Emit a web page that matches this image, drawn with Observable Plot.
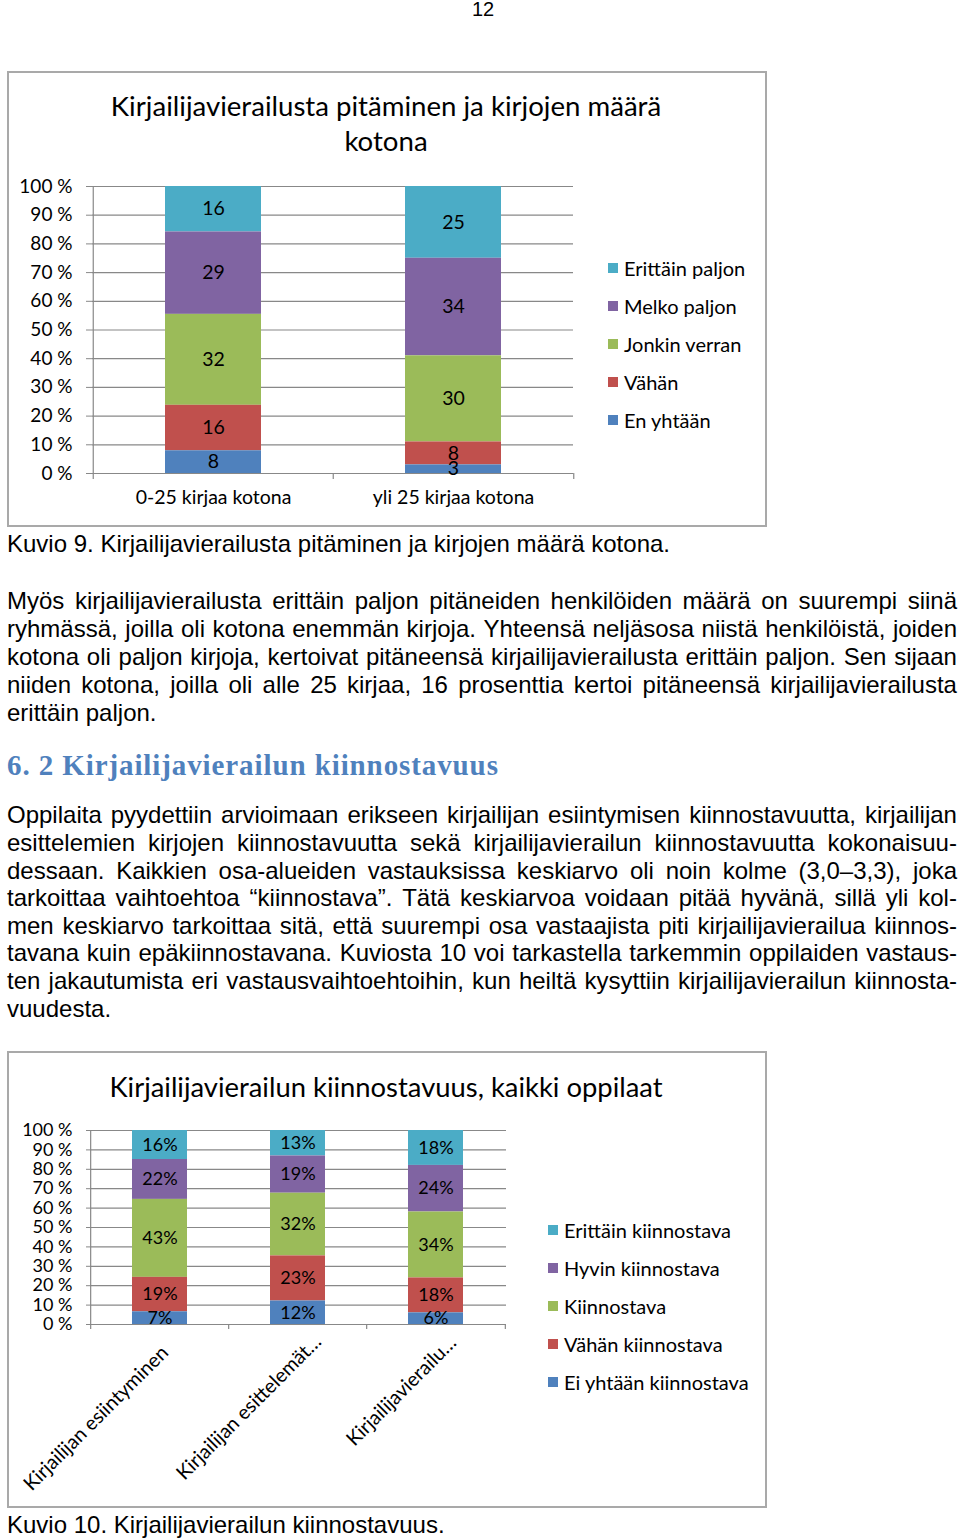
<!DOCTYPE html>
<html><head><meta charset="utf-8">
<script src="https://cdn.jsdelivr.net/npm/d3@7"></script>
<script src="https://cdn.jsdelivr.net/npm/@observablehq/plot@0.6"></script>
<style>
html,body{margin:0;padding:0;background:#fff;}
body{width:960px;height:1538px;position:relative;overflow:hidden;}
.abs{position:absolute;white-space:nowrap;}
.body{font-family:"Liberation Sans",Arial,sans-serif;font-size:24px;color:#000;}
.chartbox{position:absolute;border:2px solid #a9a9a9;box-sizing:border-box;}
.chart{font-family:Lato,"Open Sans",sans-serif;color:#000;}
.sw{position:absolute;width:10px;height:10px;}
</style></head><body>
<script>
// ---------------- data ----------------
const pageNumber = "12";

const chart1Title = ["Kirjailijavierailusta pitäminen ja kirjojen määrä", "kotona"];
const chart1Categories = ["0-25 kirjaa kotona", "yli 25 kirjaa kotona"];
const chart1Series = ["Erittäin paljon", "Melko paljon", "Jonkin verran", "Vähän", "En yhtään"];
const erittainPaljon = [16, 25];
const melkoPaljon = [29, 34];
const jonkinVerran = [32, 30];
const vahan = [16, 8];
const enYhtaan = [8, 3];

const chart2Title = "Kirjailijavierailun kiinnostavuus, kaikki oppilaat";
const chart2Categories = ["Kirjailijan esiintyminen", "Kirjailijan esittelemät…", "Kirjailijavierailu…"];
const chart2Series = ["Erittäin kiinnostava", "Hyvin kiinnostava", "Kiinnostava", "Vähän kiinnostava", "Ei yhtään kiinnostava"];
const erittainKiinnostava = [16, 13, 18];
const hyvinKiinnostava = [22, 19, 24];
const kiinnostava = [43, 32, 34];
const vahanKiinnostava = [19, 23, 18];
const eiYhtaanKiinnostava = [7, 12, 6];

const seriesColors = ["#4BACC6", "#8064A2", "#9BBB59", "#C0504D", "#4F81BD"];
const percentTicks = [0, 0.1, 0.2, 0.3, 0.4, 0.5, 0.6, 0.7, 0.8, 0.9, 1];
const percentTickLabels = ["0 %", "10 %", "20 %", "30 %", "40 %", "50 %", "60 %", "70 %", "80 %", "90 %", "100 %"];

const caption9 = "Kuvio 9. Kirjailijavierailusta pitäminen ja kirjojen määrä kotona.";
const paragraph1 = [
  "Myös kirjailijavierailusta erittäin paljon pitäneiden henkilöiden määrä on suurempi siinä",
  "ryhmässä, joilla oli kotona enemmän kirjoja. Yhteensä neljäsosa niistä henkilöistä, joiden",
  "kotona oli paljon kirjoja, kertoivat pitäneensä kirjailijavierailusta erittäin paljon. Sen sijaan",
  "niiden kotona, joilla oli alle 25 kirjaa, 16 prosenttia kertoi pitäneensä kirjailijavierailusta",
  "erittäin paljon."
];
const heading = "6. 2 Kirjailijavierailun kiinnostavuus";
const paragraph2 = [
  "Oppilaita pyydettiin arvioimaan erikseen kirjailijan esiintymisen kiinnostavuutta, kirjailijan",
  "esittelemien kirjojen kiinnostavuutta sekä kirjailijavierailun kiinnostavuutta kokonaisuu-",
  "dessaan. Kaikkien osa-alueiden vastauksissa keskiarvo oli noin kolme (3,0–3,3), joka",
  "tarkoittaa vaihtoehtoa “kiinnostava”. Tätä keskiarvoa voidaan pitää hyvänä, sillä yli kol-",
  "men keskiarvo tarkoittaa sitä, että suurempi osa vastaajista piti kirjailijavierailua kiinnos-",
  "tavana kuin epäkiinnostavana. Kuviosta 10 voi tarkastella tarkemmin oppilaiden vastaus-",
  "ten jakautumista eri vastausvaihtoehtoihin, kun heiltä kysyttiin kirjailijavierailun kiinnosta-",
  "vuudesta."
];
const caption10 = "Kuvio 10. Kirjailijavierailun kiinnostavuus.";

// ---------------- layout helpers ----------------
function el(tag, cls, css, text) {
  const e = document.createElement(tag);
  if (cls) e.className = cls;
  Object.assign(e.style, css || {});
  if (text != null) e.textContent = text;
  document.body.appendChild(e);
  return e;
}
function lineAt(text, left, cy, cls, extra, lh = 28) {
  return el("div", "abs " + cls, Object.assign({left: left + "px", top: (cy - lh / 2) + "px", height: lh + "px", lineHeight: lh + "px"}, extra || {}), text);
}
function centeredAt(text, cx, cy, cls, extra, lh = 30) {
  return el("div", "abs " + cls, Object.assign({left: (cx - 400) + "px", width: "800px", textAlign: "center", top: (cy - lh / 2) + "px", height: lh + "px", lineHeight: lh + "px"}, extra || {}), text);
}
function justifiedLine(text, cy, justify) {
  const d = el("div", "abs body", {left: "7px", width: "950px", top: (cy - 14) + "px", height: "28px", lineHeight: "28px", display: "flex", justifyContent: justify ? "space-between" : "flex-start", gap: justify ? "0" : "0.28em"});
  text.split(" ").forEach(w => { const s = document.createElement("span"); s.textContent = w; d.appendChild(s); });
}

// ---------------- page text ----------------
centeredAt(pageNumber, 483, 9, "body", {fontSize: "20px"}, 24);

el("div", "chartbox", {left: "7px", top: "71px", width: "760px", height: "456px"});
el("div", "chartbox", {left: "7px", top: "1051px", width: "760px", height: "457px"});

lineAt(caption9, 7, 544, "body");
paragraph1.forEach((t, i) => justifiedLine(t, 601 + i * 28, i < paragraph1.length - 1));
lineAt(heading, 7, 765, "", {fontFamily: "'Liberation Serif', serif", fontWeight: "bold", fontSize: "29px", letterSpacing: "0.9px", color: "#4F81BD"}, 34);
const p2y = [815, 843, 871, 898, 926, 953, 981, 1009];
paragraph2.forEach((t, i) => justifiedLine(t, p2y[i], i < paragraph2.length - 1));
lineAt(caption10, 7, 1525, "body");

// ---------------- chart helpers ----------------
const grid = "#888888";
function rowsOf(categories, series, valueArrays) {
  return series.flatMap((s, i) => categories.map((c, j) => ({cat: c, series: s, value: valueArrays[i][j]})));
}
function legend(series, left, top0, gap) {
  series.forEach((s, i) => {
    const cy = top0 + i * gap;
    el("div", "sw", {left: left + "px", top: (cy - 5) + "px", background: seriesColors[i]});
    lineAt(s, left + 16, cy, "chart", {fontSize: "20px"}, 24);
  });
}
const tickLabel = new Map(percentTicks.map((t, i) => [t, percentTickLabels[i]]));

// ---------------- chart 1 ----------------
chart1Title.forEach((t, i) => centeredAt(t, 386, 106 + i * 35, "chart", {fontSize: "27.6px"}));
const rows1 = rowsOf(chart1Categories, chart1Series, [erittainPaljon, melkoPaljon, jonkinVerran, vahan, enYhtaan]);
const order1 = chart1Series.slice().reverse();
const W1 = 600, H1 = 360, ML1 = 92, MR1 = 27, MT1 = 26, MB1 = 47;
const step1 = (W1 - ML1 - MR1) / chart1Categories.length;
const svg1 = Plot.plot({
  width: W1, height: H1, marginLeft: ML1, marginRight: MR1, marginTop: MT1, marginBottom: MB1,
  style: {fontFamily: "Lato, sans-serif", fontSize: "19px", color: "#000", background: "transparent", overflow: "visible"},
  x: {domain: chart1Categories, paddingInner: 0.6, paddingOuter: 0.3, label: null, axis: null},
  y: {domain: [0, 1], label: null, axis: null},
  color: {domain: chart1Series, range: seriesColors},
  marks: [
    Plot.ruleY(percentTicks, {stroke: grid, strokeWidth: 1.2}),
    Plot.axisY({ticks: percentTicks, tickFormat: d => tickLabel.get(d), tickSize: 6, tickPadding: 14, stroke: grid, fill: "#000", fontSize: 19, label: null}),
    Plot.ruleX([chart1Categories[0]], {y1: 0, y2: 1, dx: -step1 / 2, stroke: grid, strokeWidth: 1.2}),
    Plot.ruleX(chart1Categories, {y1: 0, y2: 0, insetBottom: -6, dx: -step1 / 2, stroke: grid, strokeWidth: 1.2}),
    Plot.ruleX(chart1Categories.slice(-1), {y1: 0, y2: 0, insetBottom: -6, dx: step1 / 2, stroke: grid, strokeWidth: 1.2}),
    Plot.barY(rows1, Plot.stackY({x: "cat", y: "value", z: "series", fill: "series", order: order1, offset: "normalize"})),
    Plot.text(rows1, Plot.stackY({x: "cat", y: "value", z: "series", order: order1, offset: "normalize", text: d => String(d.value), fill: "#000", fontSize: 19.5})),
    Plot.axisX({tickSize: 0, tickPadding: 17, fontSize: 19.5, fill: "#000", label: null})
  ]
});
Object.assign(svg1.style, {position: "absolute", left: "0px", top: "160px"});
document.body.appendChild(svg1);
legend(chart1Series, 608, 268, 38);

// ---------------- chart 2 ----------------
centeredAt(chart2Title, 386, 1087, "chart", {fontSize: "27.4px"});
const rows2 = rowsOf(chart2Categories, chart2Series, [erittainKiinnostava, hyvinKiinnostava, kiinnostava, vahanKiinnostava, eiYhtaanKiinnostava]);
const order2 = chart2Series.slice().reverse();
const W2 = 600, H2 = 400, ML2 = 90, MR2 = 94, MT2 = 20, MB2 = 186;
const step2 = (W2 - ML2 - MR2) / chart2Categories.length;
// per-label nudges of the rotated category labels (layout only)
const rotatedLabelNudge = [[5, 7], [20, -4], [17, -3]];
const svg2 = Plot.plot({
  width: W2, height: H2, marginLeft: ML2, marginRight: MR2, marginTop: MT2, marginBottom: MB2,
  style: {fontFamily: "Lato, sans-serif", fontSize: "18px", color: "#000", background: "transparent", overflow: "visible"},
  x: {domain: chart2Categories, paddingInner: 0.6, paddingOuter: 0.3, label: null, axis: null},
  y: {domain: [0, 1], label: null, axis: null},
  color: {domain: chart2Series, range: seriesColors},
  marks: [
    Plot.ruleY(percentTicks, {stroke: grid, strokeWidth: 1.2}),
    Plot.axisY({ticks: percentTicks, tickFormat: d => tickLabel.get(d), tickSize: 4, tickPadding: 14, stroke: grid, fill: "#000", fontSize: 18, label: null}),
    Plot.ruleX([chart2Categories[0]], {y1: 0, y2: 1, dx: -step2 / 2, stroke: grid, strokeWidth: 1.2}),
    Plot.ruleX(chart2Categories, {y1: 0, y2: 0, insetBottom: -5, dx: -step2 / 2, stroke: grid, strokeWidth: 1.2}),
    Plot.ruleX(chart2Categories.slice(-1), {y1: 0, y2: 0, insetBottom: -5, dx: step2 / 2, stroke: grid, strokeWidth: 1.2}),
    Plot.barY(rows2, Plot.stackY({x: "cat", y: "value", z: "series", fill: "series", order: order2, offset: "normalize"})),
    Plot.text(rows2, Plot.stackY({x: "cat", y: "value", z: "series", order: order2, offset: "normalize", text: d => d.value + "%", fill: "#000", fontSize: 18})),
    ...chart2Categories.map((c, i) => Plot.axisX({ticks: [c], tickSize: 0, tickPadding: 18, tickRotate: -45, fontSize: 19.8, fill: "#000", label: null, dx: rotatedLabelNudge[i][0], dy: rotatedLabelNudge[i][1]}))
  ]
});
Object.assign(svg2.style, {position: "absolute", left: "0px", top: "1110px"});
document.body.appendChild(svg2);
legend(chart2Series, 548, 1230, 38);
</script>
</body></html>
